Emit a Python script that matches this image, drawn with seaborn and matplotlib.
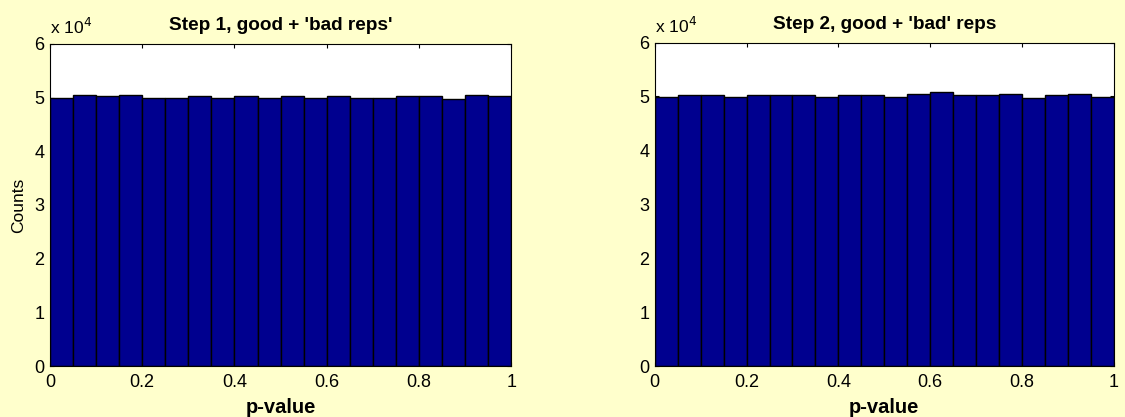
import numpy as np
import pandas as pd
import matplotlib
matplotlib.use('Agg')
import matplotlib.pyplot as plt
import seaborn as sns

# bin counts (20 bins over 0..1)
n_bins = 20
step1_counts = [49900, 50500, 50200, 50500, 49900, 49900, 50200, 49900, 50200, 49900,
                50200, 49900, 50200, 49900, 49900, 50200, 50200, 49700, 50500, 50200]
step2_counts = [49900, 50200, 50200, 49900, 50200, 50200, 50200, 49900, 50200, 50200,
                49900, 50500, 50800, 50200, 50200, 50500, 49700, 50200, 50500, 49900]
titles = ["Step 1, good + 'bad reps'", "Step 2, good + 'bad' reps"]
x_ticks = [0, 0.2, 0.4, 0.6, 0.8, 1]
x_ticklabels = ['0', '0.2', '0.4', '0.6', '0.8', '1']
y_ticks = [0, 10000, 20000, 30000, 40000, 50000, 60000]
y_ticklabels = ['0', '1', '2', '3', '4', '5', '6']

sns.set_style('ticks')
plt.rcParams['font.family'] = ['Liberation Sans', 'DejaVu Sans']
plt.rcParams['text.color'] = 'black'
plt.rcParams['axes.labelcolor'] = 'black'
plt.rcParams['xtick.color'] = 'black'
plt.rcParams['ytick.color'] = 'black'

bg = '#FFFFCC'
fig = plt.figure(figsize=(11.25, 4.17), dpi=100, facecolor=bg)
ax1 = fig.add_axes([0.0444, 0.122, 0.41, 0.773])
ax2 = fig.add_axes([0.582, 0.122, 0.408, 0.776])

centers = (np.arange(n_bins) + 0.5) / n_bins

for ax, counts, title in zip([ax1, ax2], [step1_counts, step2_counts], titles):
    df = pd.DataFrame({'p': centers, 'count': counts})
    sns.histplot(data=df, x='p', weights='count', bins=n_bins, binrange=(0, 1), ax=ax,
                 color='#00008F', edgecolor='black', linewidth=1.0, alpha=1.0)
    ax.set_facecolor('white')
    ax.set_xlim(0, 1)
    ax.set_ylim(0, 60000)
    ax.set_xticks(x_ticks)
    ax.set_xticklabels(x_ticklabels)
    ax.set_yticks(y_ticks)
    ax.set_yticklabels(y_ticklabels)
    ax.tick_params(direction='in', length=3, labelsize=13, top=True, right=True,
                   color='black', labelcolor='black', pad=4)
    ax.tick_params(axis='x', pad=6)
    for s in ax.spines.values():
        s.set_color('black')
        s.set_linewidth(0.8)
    ax.set_title(title, fontsize=13.7, fontweight='bold', pad=10, color='black')
    ax.set_xlabel('p-value', fontsize=14.5, fontweight='bold', labelpad=5, color='black')
    ax.set_ylabel('')
    ax.text(0.0, 1.02, r'x 10$^{4}$', transform=ax.transAxes, fontsize=12.5,
            ha='left', va='bottom', color='black')

ax1.set_ylabel('Counts', fontsize=12.5, labelpad=6, color='black')

plt.savefig('out.png', dpi=100, facecolor=bg)
